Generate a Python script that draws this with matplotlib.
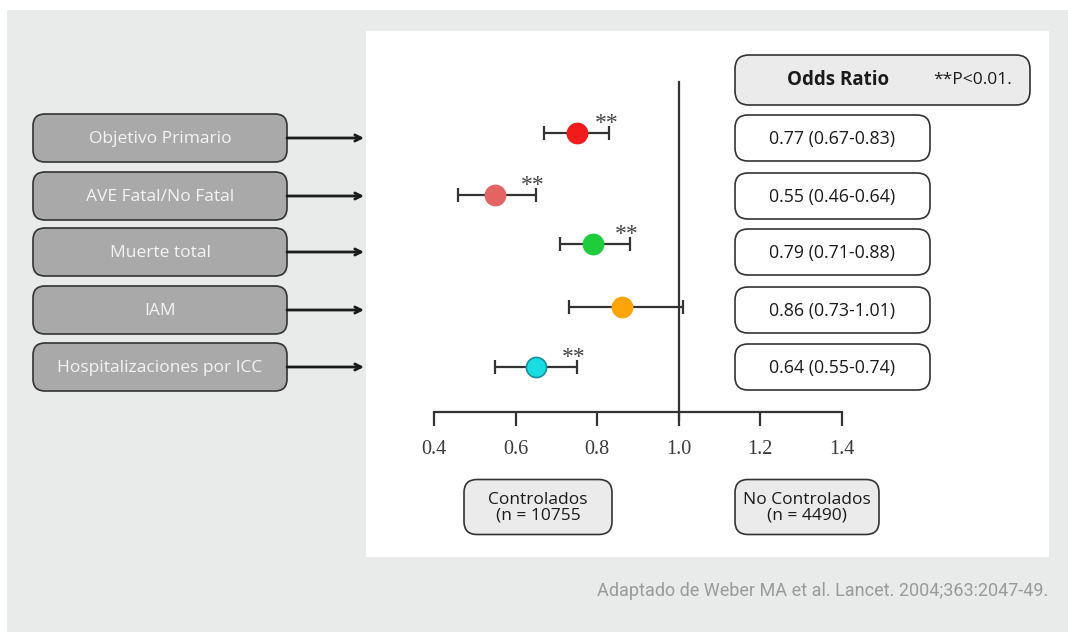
import matplotlib
matplotlib.use("Agg")
import matplotlib.pyplot as plt
from matplotlib.patches import FancyBboxPatch, Rectangle
from matplotlib import font_manager

# ---------------- data ----------------
outcomes = ["Objetivo Primario", "AVE Fatal/No Fatal", "Muerte total", "IAM",
            "Hospitalizaciones por ICC"]
odds_point = [0.75, 0.55, 0.79, 0.86, 0.65]
ci_low = [0.67, 0.46, 0.71, 0.73, 0.55]
ci_high = [0.83, 0.65, 0.88, 1.01, 0.75]
or_labels = ["0.77 (0.67-0.83)", "0.55 (0.46-0.64)", "0.79 (0.71-0.88)",
             "0.86 (0.73-1.01)", "0.64 (0.55-0.74)"]
significant = [True, True, True, False, True]
marker_colors = ["#f01c1c", "#e46464", "#1fcc3c", "#ffa50a", "#19dde0"]
marker_edges = ["#f01c1c", "#e46464", "#1fcc3c", "#ffa50a", "#1a8f9c"]
x_ticks = [0.4, 0.6, 0.8, 1.0, 1.2, 1.4]
x_ticklabels = ["0.4", "0.6", "0.8", "1.0", "1.2", "1.4"]
group_labels = ["Controlados\n(n = 10755", "No Controlados\n(n = 4490)"]
header_text = "Odds Ratio"
pvalue_text = "**P<0.01."
source_text = "Adaptado de Weber MA et al. Lancet. 2004;363:2047-49."

# ---------------- layout (pixels) ----------------
W, H = 1068, 632
row_px = [133, 195, 244, 307, 367]          # marker rows
box_cy = [138, 196, 252, 310, 367]          # label / value box centres
box_h = 48

available = {f.name for f in font_manager.fontManager.ttflist}
sans = "Open Sans" if "Open Sans" in available else "DejaVu Sans"
serif = "Liberation Serif" if "Liberation Serif" in available else "DejaVu Serif"
cond = "Liberation Sans Narrow" if "Liberation Sans Narrow" in available else "Roboto"

fig = plt.figure(figsize=(W / 100, H / 100), dpi=100)
fig.patch.set_facecolor("white")

bg = fig.add_axes([0, 0, 1, 1])
bg.set_xlim(0, W)
bg.set_ylim(H, 0)
bg.axis("off")
bg.add_patch(Rectangle((7, 10), W - 7, H - 10, facecolor="#e9eaea", edgecolor="none"))
bg.add_patch(Rectangle((366, 31), 683, 526, facecolor="white", edgecolor="none"))


def rbox(x0, x1, cy, h, fc, r=12, lw=1.2):
    bg.add_patch(FancyBboxPatch((x0, cy - h / 2), x1 - x0, h,
                                boxstyle=f"round,pad=0,rounding_size={r}",
                                facecolor=fc, edgecolor="#333333", linewidth=lw))


# left outcome boxes and arrows
for name, cy in zip(outcomes, box_cy):
    rbox(33, 287, cy, box_h, "#a9a9a9")
    bg.text(160, cy + 1, name, ha="center", va="center", color="#f4f4f4",
            fontsize=12.5, family=sans)
    bg.annotate("", xy=(364, cy), xytext=(287, cy),
                arrowprops=dict(arrowstyle="->", lw=2.0, color="#1a1a1a",
                                mutation_scale=11, shrinkA=0, shrinkB=0))

# header box
rbox(735, 1030, 80, 50, "#ebebeb", r=14)
bg.text(838, 80, header_text, ha="center", va="center", fontsize=13.5,
        fontweight="bold", family=sans, color="#1a1a1a")
bg.text(973, 80, pvalue_text, ha="center", va="center", fontsize=12.5,
        family=sans, color="#1a1a1a")

# value boxes
for lab, cy in zip(or_labels, box_cy):
    rbox(735, 930, cy, 46, "white", r=13)
    bg.text(832, cy + 1, lab, ha="center", va="center", fontsize=12.8,
            family=sans, color="#1a1a1a")

# group boxes
rbox(464, 612, 507, 55, "#ebebeb", r=13)
rbox(735, 879, 507, 55, "#ebebeb", r=13)
bg.text(538, 508, group_labels[0], ha="center", va="center", fontsize=12.5,
        family=sans, color="#1a1a1a", linespacing=0.92)
bg.text(807, 508, group_labels[1], ha="center", va="center", fontsize=12.5,
        family=sans, color="#1a1a1a", linespacing=0.92)

# source
bg.text(1048, 591, source_text, ha="right", va="center", fontsize=13,
        family=cond, color="#9a9a9a")

# ---------------- forest plot ----------------
ax = fig.add_axes([434 / W, 1 - 412 / H, 408 / W, 352 / H])
ax.patch.set_alpha(0)
ax.set_xlim(0.4, 1.4)
ax.set_ylim(412, 60)
for s in ["left", "right", "top"]:
    ax.spines[s].set_visible(False)
ax.spines["bottom"].set_linewidth(1.6)
ax.spines["bottom"].set_color("#333333")
ax.set_yticks([])
ax.set_xticks(x_ticks)
ax.set_xticklabels(x_ticklabels)
ax.tick_params(axis="x", direction="out", length=10, width=1.6, color="#333333",
               pad=10, labelsize=14.5, labelcolor="#3a3a3a")
for t in ax.get_xticklabels():
    t.set_fontfamily(serif)

ax.plot([1.0, 1.0], [82, 420], color="#333333", lw=1.6, clip_on=False, zorder=1)

for p, lo, hi, y, fc, ec, sig in zip(odds_point, ci_low, ci_high, row_px,
                                     marker_colors, marker_edges, significant):
    ax.errorbar([p], [y], xerr=[[p - lo], [hi - p]], fmt="none", ecolor="#333333",
                elinewidth=1.6, capsize=5, capthick=1.6, zorder=2)
    ax.plot([p], [y], "o", markersize=14.5, markerfacecolor=fc, markeredgecolor=ec,
            markeredgewidth=1.2, zorder=3)
    if sig:
        ax.text(hi - 0.007, y - 4, "**", ha="center", va="baseline", fontsize=17,
                family=serif, color="#444444")

fig.savefig("out.png", dpi=100)
